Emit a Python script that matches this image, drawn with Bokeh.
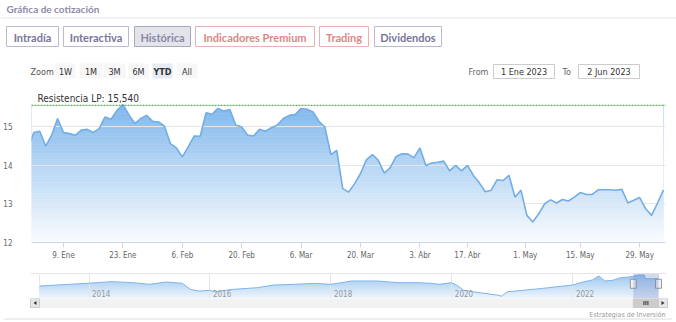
import numpy as np
import pandas as pd
from bokeh.plotting import figure
from bokeh.layouts import column
from bokeh.models import Range1d, FixedTicker, Span, Label, BoxAnnotation
from bokeh.core.properties import value
from bokeh.embed import file_html
from bokeh.resources import INLINE

# ------------------------------------------------------------------ data
holidays = ["2023-04-07", "2023-04-10", "2023-05-01"]
prev_day = "2022-12-30"
first_day, last_day = "2023-01-02", "2023-06-02"

close = [14.43,
         14.84, 14.87, 14.49, 14.77, 15.20, 14.84, 14.81, 14.77, 14.90, 14.92,
         14.84, 14.94, 15.24, 15.18, 15.41, 15.56, 15.30, 15.07, 15.20, 15.28,
         15.13, 15.11, 15.00, 14.55, 14.44, 14.21, 14.47, 14.75, 14.74, 15.35,
         15.31, 15.46, 15.39, 15.43, 15.03, 14.98, 14.77, 14.75, 14.92, 14.87,
         14.96, 15.03, 15.20, 15.28, 15.30, 15.46, 15.44, 15.37, 15.13, 14.98,
         14.27, 14.38, 13.39, 13.30, 13.52, 13.78, 14.14, 14.27, 14.12, 13.79,
         13.93, 14.22, 14.29, 14.28, 14.19, 14.44, 13.99, 14.05, 14.07, 14.10,
         13.85, 13.99, 13.85, 13.99, 13.73, 13.54, 13.31, 13.35, 13.62, 13.60,
         13.73, 13.17, 13.35, 12.70, 12.53, 12.74, 13.00, 13.10, 13.02, 13.11,
         13.07, 13.17, 13.29, 13.24, 13.24, 13.36, 13.36, 13.36, 13.35, 13.37,
         13.02, 13.09, 13.16, 12.87, 12.70, 13.02, 13.36]

tick_dates = ["2023-01-09", "2023-01-23", "2023-02-06", "2023-02-20", "2023-03-06",
              "2023-03-20", "2023-04-03", "2023-04-17", "2023-05-01", "2023-05-15",
              "2023-05-29"]
tick_labels = ["9. Ene", "23. Ene", "6. Feb", "20. Feb", "6. Mar", "20. Mar",
               "3. Abr", "17. Abr", "1. May", "15. May", "29. May"]
y_ticks = [12, 13, 14, 15]
resistance = 15.54
resistance_label = "Resistencia LP: 15,540"

nav_dates = ["2013-03-08", "2013-12-20", "2014-05-19", "2014-09-24", "2015-01-01",
             "2015-04-09", "2015-07-19", "2015-09-06", "2015-10-27", "2015-12-28",
             "2016-02-03", "2016-05-15", "2016-10-12", "2017-01-19", "2017-05-23",
             "2017-09-28", "2018-01-01", "2018-05-08", "2018-10-05", "2019-02-10",
             "2019-06-14", "2019-08-26", "2019-10-16", "2020-01-01", "2020-02-07",
             "2020-03-14", "2020-06-21", "2020-10-01", "2020-10-27", "2020-12-02",
             "2021-02-28", "2021-07-02", "2021-11-03", "2022-01-01", "2022-02-14",
             "2022-04-28", "2022-06-07", "2022-07-13", "2022-08-29", "2022-10-19",
             "2022-12-09", "2023-01-02", "2023-01-31", "2023-03-08", "2023-03-14",
             "2023-04-28", "2023-06-02"]
nav_values = [9.23, 10.75, 11.70, 11.13, 10.18,
              11.51, 10.75, 7.33, 6.38, 6.76,
              6.00, 7.33, 8.28, 9.80, 10.18,
              10.75, 10.18, 12.08, 12.08, 11.13,
              11.13, 10.75, 10.18, 11.13, 9.23,
              6.76, 5.43, 4.10, 3.53, 6.00,
              6.76, 7.90, 9.23, 9.80, 11.13,
              12.65, 14.93, 12.08, 12.46, 13.98,
              14.36, 14.84, 15.41, 15.46, 13.39,
              13.35, 13.36]
nav_years = ["2014", "2016", "2018", "2020", "2022"]
nav_start = "2013-03-08"
selection_start = "2023-01-01"

tabs = ["Intradía", "Interactiva", "Histórica", "Indicadores Premium", "Trading", "Dividendos"]
zoom_buttons = ["1W", "1M", "3M", "6M", "YTD", "All"]
from_text, to_text = "1 Ene 2023", "2 Jun 2023"
credit = "Estrategias de Inversión"

# ------------------------------------------------------------------ helpers
CH = "Liberation Sans Narrow, DejaVu Sans Condensed, Arial Narrow, sans-serif"
CH_FONT = value(CH)
UI_FONT = value("Lato")
W = 676


def blank(fig):
    fig.outline_line_color = None
    fig.xgrid.visible = False
    fig.ygrid.visible = False
    fig.background_fill_color = "white"
    fig.border_fill_color = "white"
    return fig


def ms(s):
    return pd.Timestamp(s).timestamp() * 1000


def blend(c, t):
    return "#%02x%02x%02x" % tuple(int(v + (255 - v) * t) for v in c)


BLUE = (124, 181, 236)

# ------------------------------------------------------------------ header
hdr = figure(width=W, height=80, x_range=Range1d(0, W), y_range=Range1d(80, 0),
             output_backend="svg", toolbar_location=None,
             x_axis_location=None, y_axis_location=None, frame_align=False,
             min_border=0, min_border_left=0, min_border_right=0,
             min_border_top=0, min_border_bottom=0)
blank(hdr)
hdr.text(x=[6], y=[8], text=["Gráfica de cotización"], text_font=UI_FONT,
         text_font_size="10px", text_font_style="bold", text_color="#8e8aab",
         text_baseline="middle", text_align="left")
hdr.segment(x0=[0], y0=[17.5], x1=[W], y1=[17.5], line_color="#e6e6ee", line_width=1)

tab_l = [6, 63, 134, 195, 319, 374]
tab_r = [58, 128, 190, 314, 368, 441]
tab_line = ["#bcbad2", "#bcbad2", "#a9a8c2", "#eab2b2", "#eab2b2", "#bcbad2"]
tab_fill = ["white", "white", "#e3e3ea", "white", "white", "white"]
tab_txt = ["#77749c", "#77749c", "#8a88a8", "#e08585", "#e08585", "#77749c"]
hdr.quad(left=tab_l, right=tab_r, top=[26] * 6, bottom=[46] * 6,
         fill_color=tab_fill, line_color=tab_line, line_width=1)
hdr.text(x=[(a + b) / 2 for a, b in zip(tab_l, tab_r)], y=[36.5] * 6, text=tabs,
         text_font=UI_FONT, text_font_size="11px", text_font_style="bold",
         text_color=tab_txt, text_align="center", text_baseline="middle")

# zoom row
hdr.text(x=[30], y=[71], text=["Zoom"], text_font=CH_FONT, text_font_size="9px",
         text_color="#555555", text_baseline="middle")
zb_l = [55, 79, 103, 128, 152, 176]
zb_r = [75, 102, 125, 148, 172, 197]
zb_fill = ["#f7f7f7"] * 4 + ["#e6ebf5", "#f7f7f7"]
hdr.quad(left=zb_l, right=zb_r, top=[63] * 6, bottom=[78] * 6,
         fill_color=zb_fill, line_color=None)
hdr.text(x=[(a + b) / 2 for a, b in zip(zb_l, zb_r)], y=[71] * 6, text=zoom_buttons,
         text_font=CH_FONT, text_font_size="9px",
         text_font_style=["normal"] * 4 + ["bold", "normal"],
         text_color="#333333", text_align="center", text_baseline="middle")
hdr.text(x=[468, 562], y=[71, 71], text=["From", "To"], text_font=CH_FONT,
         text_font_size="9px", text_color="#666666", text_baseline="middle")
hdr.quad(left=[493, 578], right=[554, 639], top=[64, 64], bottom=[78, 78],
         fill_color="white", line_color="#cccccc")
hdr.text(x=[523.5, 608.5], y=[71, 71], text=[from_text, to_text], text_font=CH_FONT,
         text_font_size="9px", text_color="#333333", text_align="center",
         text_baseline="middle")

# ------------------------------------------------------------------ main chart
dates = [pd.Timestamp(prev_day)] + [d for d in pd.bdate_range(first_day, last_day)
                                    if d.strftime("%Y-%m-%d") not in holidays]
idx = np.arange(len(dates)) - 1.0
ords = np.array([d.toordinal() for d in dates], dtype=float)
tick_pos = [float(np.interp(pd.Timestamp(t).toordinal(), ords, idx)) for t in tick_dates]
vals = np.array(close)

p = figure(width=W, height=182, x_range=Range1d(-0.39, idx[-1] + 0.34),
           y_range=Range1d(12, 16), output_backend="svg", toolbar_location=None,
           frame_align=False,
           min_border_top=7, min_border_bottom=20, min_border_left=30,
           min_border_right=11)
p.outline_line_color = None
p.background_fill_color = "white"
p.border_fill_color = "white"

# gradient fill under the curve (bands) + white mask above the curve
nb = 48
vmax = vals.max()
edges = np.linspace(12, vmax, nb + 1)
cols = [blend(BLUE, 0.04 + 0.93 * (1 - ((edges[k] + edges[k + 1]) / 2 - 12) / (vmax - 12)))
        for k in range(nb)]
p.quad(left=idx[0], right=idx[-1], bottom=edges[:-1], top=edges[1:],
       fill_color=cols, line_color=cols, line_width=0.6, level="image")
p.varea(x=idx, y1=vals, y2=16, fill_color="white", level="image")

p.line(idx, vals, line_color="#72ade6", line_width=1.6)

p.ygrid.ticker = FixedTicker(ticks=y_ticks + [16])
p.ygrid.grid_line_color = "#e6e6e6"
p.xgrid.visible = False

p.xaxis.ticker = FixedTicker(ticks=tick_pos)
p.xaxis.major_label_overrides = {tp: lab for tp, lab in zip(tick_pos, tick_labels)}
p.xaxis.axis_line_color = "#ccd6eb"
p.xaxis.major_tick_line_color = "#ccd6eb"
p.xaxis.major_tick_out = 5
p.xaxis.major_tick_in = 0
p.xaxis.minor_tick_line_color = None
p.xaxis.major_label_standoff = 3
p.xaxis.major_label_text_font = CH
p.xaxis.major_label_text_font_size = "8px"
p.xaxis.major_label_text_color = "#666666"

p.yaxis.ticker = FixedTicker(ticks=y_ticks)
p.yaxis.axis_line_color = None
p.yaxis.major_tick_line_color = None
p.yaxis.minor_tick_line_color = None
p.yaxis.major_label_standoff = 13
p.yaxis.major_label_text_font = CH
p.yaxis.major_label_text_font_size = "8px"
p.yaxis.major_label_text_color = "#666666"
p.yaxis.major_label_text_baseline = "alphabetic"

p.add_layout(Span(location=resistance, dimension="width", line_color="#3b9a3b",
                  line_dash="2 1", line_width=1))
p.add_layout(Label(x=0.6, y=resistance, y_offset=1, text=resistance_label,
                   text_font=CH, text_font_size="10px", text_color="#333333",
                   text_baseline="bottom"))

# ------------------------------------------------------------------ navigator
nt = np.array([ms(d) for d in nav_dates])
t0 = ms(nav_start)
t1 = ms(last_day)
NAV_L, NAV_R = 39, 658      # pixel span of the navigator series
FR_L, FR_R = 30, 666        # navigator frame (outline width)
span_ms = (t1 - t0) / (NAV_R - NAV_L)
ny0, ny1 = 2.2, 16.3
nav = figure(width=W, height=36,
             x_range=Range1d(t0 - (NAV_L - FR_L) * span_ms, t1 + (FR_R - NAV_R) * span_ms),
             y_range=Range1d(ny0, ny1),
             output_backend="svg", toolbar_location=None,
             x_axis_location=None, y_axis_location=None, frame_align=False,
             min_border_top=11, min_border_bottom=0, min_border_left=FR_L,
             min_border_right=W - FR_R)
nav.outline_line_color = None
nav.background_fill_color = "white"
nav.border_fill_color = "white"
nav.ygrid.visible = False
year_t = [ms(y + "-01-01") for y in nav_years]
nav.xgrid.ticker = FixedTicker(ticks=year_t)
nav.xgrid.grid_line_color = "#e6e6e6"
nmax = max(nav_values)
nedges = np.linspace(ny0, nmax, 25)
ncols = [blend(BLUE, 0.25 + 0.65 * (1 - ((nedges[k] + nedges[k + 1]) / 2 - ny0) / (nmax - ny0)))
         for k in range(24)]
nav.quad(left=nt[0], right=nt[-1], bottom=nedges[:-1], top=nedges[1:],
         fill_color=ncols, line_color=ncols, line_width=0.6, level="image")
nav.varea(x=nt, y1=nav_values, y2=ny1, fill_color="white", level="image")
nav.line(nt, nav_values, line_color="#7cb5ec", line_width=1)
nav.text(x=year_t, y=[ny0] * len(year_t), text=nav_years, x_offset=3, y_offset=-2,
         text_font=CH_FONT, text_font_size="8px", text_color="#999999",
         text_baseline="bottom")
sel0 = ms(selection_start)
nav.add_layout(BoxAnnotation(left=sel0, right=t1, fill_color="#6685c2", fill_alpha=0.3,
                             line_color=None))
nav.add_layout(Span(location=ny1, dimension="width", line_color="#cccccc", line_width=1))
nav.rect(x=[sel0, t1], y=[10.5, 10.5], width=6, height=9, width_units="screen",
         height_units="screen", fill_color="#f2f2f2", line_color="#999999")

# ------------------------------------------------------------------ scrollbar / footer
ftr = figure(width=W, height=24, x_range=Range1d(0, W), y_range=Range1d(24, 0),
             output_backend="svg", toolbar_location=None,
             x_axis_location=None, y_axis_location=None, frame_align=False,
             min_border=0, min_border_left=0, min_border_right=0,
             min_border_top=0, min_border_bottom=0)
blank(ftr)
L, R = 30, 667
px0 = NAV_L + (sel0 - t0) / (t1 - t0) * (NAV_R - NAV_L)
ftr.quad(left=[L], right=[R], top=[0], bottom=[9], fill_color="#f2f2f2", line_color="#f2f2f2")
ftr.quad(left=[L, R - 9], right=[L + 9, R], top=[0, 0], bottom=[9, 9],
         fill_color="#e6e6e6", line_color="#cccccc")
ftr.patches(xs=[[L + 3, L + 6, L + 6], [R - 6, R - 3, R - 6]],
            ys=[[4.5, 2.5, 6.5], [2.5, 4.5, 6.5]], fill_color="#333333", line_color=None)
ftr.quad(left=[px0], right=[NAV_R], top=[0], bottom=[9], fill_color="#cccccc",
         line_color="#cccccc")
cx = (px0 + NAV_R) / 2
ftr.segment(x0=[cx - 2, cx, cx + 2], y0=[2.5] * 3, x1=[cx - 2, cx, cx + 2], y1=[6.5] * 3,
            line_color="#333333", line_width=1)
ftr.text(x=[665], y=[16], text=[credit], text_font=CH_FONT, text_font_size="7px",
         text_color="#999999", text_align="right", text_baseline="middle")
ftr.segment(x0=[4], y0=[20.5], x1=[672], y1=[20.5], line_color="#dddddd")

layout = column(hdr, p, nav, ftr, spacing=0)
open("out.html", "w").write(file_html(layout, INLINE))
